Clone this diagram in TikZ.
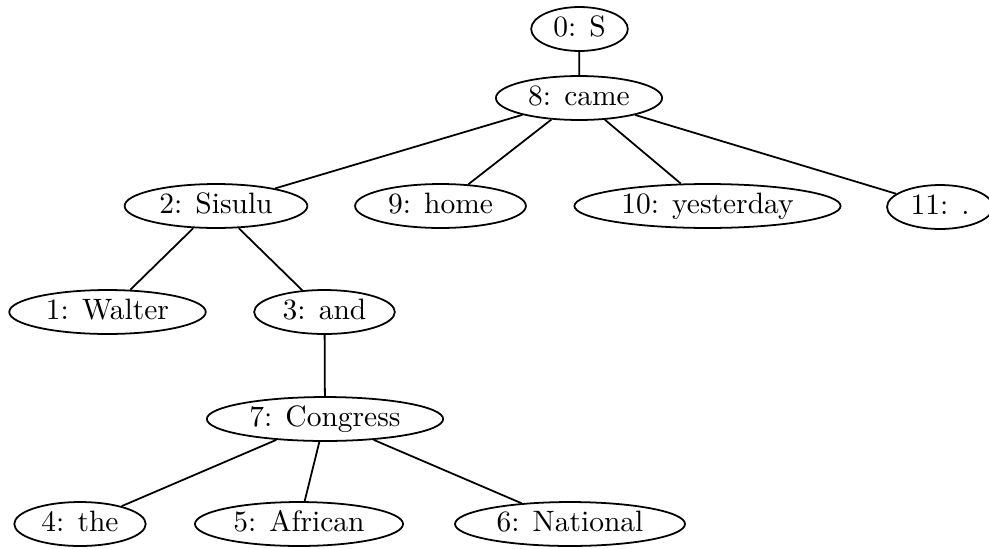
\documentclass[tikz,border=0pt]{standalone}
\usetikzlibrary{shapes.geometric}
\begin{document}
\begin{tikzpicture}[x=0.339pt, y=-0.339pt,
  tok/.style={ellipse, draw, line width=0.6pt, inner xsep=2.7pt, inner ysep=0pt,
    minimum height=14.9pt, text height=6.94pt, text depth=1.94pt},
  dep/.style={line width=0.6pt}]
  \useasboundingbox (0,0) rectangle (989,548);

  % tokens
  \node[tok] (n0)  at (579.5, 29) {0: S};
  \node[tok] (n8)  at (579, 98)   {8: came};
  \node[tok] (n2)  at (216, 206)  {2: Sisulu};
  \node[tok] (n9)  at (440.5, 206) {9: home};
  \node[tok] (n10) at (707.5, 206) {10: yesterday};
  \node[tok] (n11) at (940, 207)  {11: .};
  \node[tok] (n1)  at (107.5, 312) {1: Walter};
  \node[tok] (n3)  at (324.5, 312) {3: and};
  \node[tok] (n7)  at (325, 419)  {7: Congress};
  \node[tok] (n4)  at (80, 524)   {4: the};
  \node[tok] (n5)  at (299, 524)  {5: African};
  \node[tok] (n6)  at (570, 524)  {6: National};

  % dependency arcs
  \draw[dep] (n0) -- (n8);
  \draw[dep] (n8) -- (n2);
  \draw[dep] (n8) -- (n9);
  \draw[dep] (n8) -- (n10);
  \draw[dep] (n8) -- (n11);
  \draw[dep] (n2) -- (n1);
  \draw[dep] (n2) -- (n3);
  \draw[dep] (n3) -- (n7);
  \draw[dep] (n7) -- (n4);
  \draw[dep] (n7) -- (n5);
  \draw[dep] (n7) -- (n6);
\end{tikzpicture}
\end{document}
